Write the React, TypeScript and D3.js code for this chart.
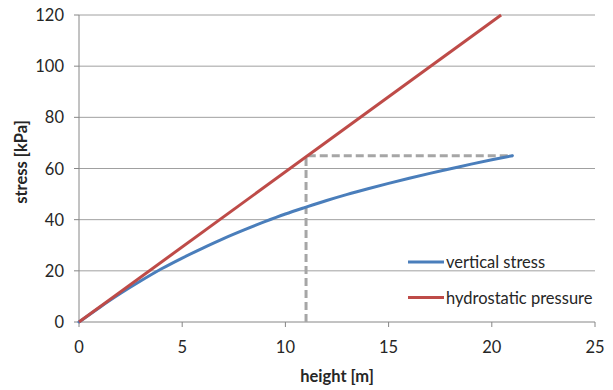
import React from "react";
import * as d3 from "d3";

// height [m] and stress [kPa]
const heights = [0, 1, 2, 3, 4, 5, 6, 7, 8, 9, 10, 11, 12, 13, 14, 15, 16, 17, 18, 19, 20, 21];
const verticalStress = [0, 5.7, 11.1, 16.1, 20.8, 25, 28.9, 32.6, 36, 39.2, 42.2, 44.9, 47.5, 49.9, 52.1, 54.2, 56.2, 58.1, 59.9, 61.7, 63.4, 65];
const hydroHeights = [0, 20.45];
const hydroPressure = [0, 120];
const markHeight = 11;
const markStress = 65;
const markEnd = 21;

const xTicks = [0, 5, 10, 15, 20, 25];
const yTicks = [0, 20, 40, 60, 80, 100, 120];

const seriesNames = ["vertical stress", "hydrostatic pressure"];
const seriesColors = ["#4a7ebb", "#be4b48"];

const font = "Lato, 'Open Sans', sans-serif";

const App = () => {
  const width = 613, height = 390;
  const left = 79, right = 595, top = 15, bottom = 322;

  const x = d3.scaleLinear().domain([0, 25]).range([left, right]);
  const y = d3.scaleLinear().domain([0, 120]).range([bottom, top]);

  const line = d3.line<[number, number]>()
    .x(d => x(d[0]))
    .y(d => y(d[1]))
    .curve(d3.curveMonotoneX);

  const blue = heights.map((h, i) => [h, verticalStress[i]] as [number, number]);
  const red = hydroHeights.map((h, i) => [h, hydroPressure[i]] as [number, number]);

  return (
    <svg width={width} height={height} style={{ position: "absolute", left: 0, top: 0 }} fontFamily={font}>
      <rect width={width} height={height} fill="white" />
      {yTicks.map(t => (
        <g key={"y" + t}>
          {t > 0 && <line x1={left} x2={right} y1={y(t)} y2={y(t)} stroke="#a0a0a0" strokeWidth={1} />}
          <line x1={left - 5} x2={left} y1={y(t)} y2={y(t)} stroke="#868686" />
          <text x={left - 15} y={y(t) + 6} textAnchor="end" fontSize={16.5} fill="#262626">{t}</text>
        </g>
      ))}
      <line x1={left} x2={left} y1={top} y2={bottom} stroke="#868686" />
      <line x1={left} x2={right} y1={bottom} y2={bottom} stroke="#868686" />
      {xTicks.map(t => (
        <g key={"x" + t}>
          <line x1={x(t)} x2={x(t)} y1={bottom} y2={bottom + 5} stroke="#868686" />
          <text x={x(t)} y={bottom + 31} textAnchor="middle" fontSize={16.5} fill="#262626">{t}</text>
        </g>
      ))}

      <path
        d={`M${x(markHeight)},${y(0)}V${y(markStress)}H${x(markEnd)}`}
        fill="none" stroke="#a6a6a6" strokeWidth={3} strokeDasharray="8,4"
      />
      <path d={line(blue) || ""} fill="none" stroke={seriesColors[0]} strokeWidth={3} strokeLinecap="round" />
      <path d={line(red) || ""} fill="none" stroke={seriesColors[1]} strokeWidth={3} />

      {seriesNames.map((n, i) => (
        <g key={n} transform={`translate(408,${262 + i * 35.5})`}>
          <line x1={0} x2={36} y1={0} y2={0} stroke={seriesColors[i]} strokeWidth={3} />
          <text x={38} y={6} fontSize={16.5} fill="#262626">{n}</text>
        </g>
      ))}

      <text x={337} y={382} textAnchor="middle" fontSize={16.5} fontWeight="bold" fill="#262626">height [m]</text>
      <text transform="translate(27,162) rotate(-90)" textAnchor="middle" fontSize={16.5} fontWeight="bold" fill="#262626">stress [kPa]</text>
    </svg>
  );
};

export default App;
